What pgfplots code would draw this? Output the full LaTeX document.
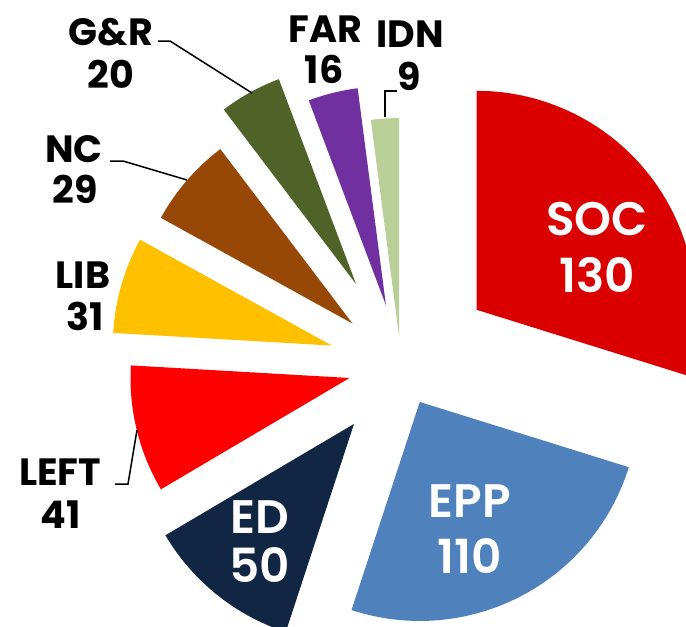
\documentclass[border=0pt]{standalone}
\usepackage{pgfplots}
\pgfplotsset{compat=1.18}
\usepackage{fontspec}
\setmainfont{Poppins}
\newfontfamily\semib{Poppins SemiBold}
\definecolor{socc}{RGB}{218,0,0}
\definecolor{eppc}{RGB}{79,129,189}
\definecolor{edc}{RGB}{17,38,66}
\definecolor{leftc}{RGB}{255,0,0}
\definecolor{libc}{RGB}{255,192,0}
\definecolor{ncc}{RGB}{151,72,7}
\definecolor{grc}{RGB}{79,98,40}
\definecolor{farc}{RGB}{112,48,160}
\definecolor{idnc}{RGB}{186,206,152}
% total of seats
\def\total{436}
\def\cum{0}
% \slice{value}{explode (px)}{colour}
\newcommand\slice[3]{%
  \pgfmathsetmacro\sa{\cum/\total*360}%
  \pgfmathsetmacro\sb{(\cum+#1)/\total*360}%
  \pgfmathsetmacro\sm{(\sa+\sb)/2}%
  \pgfmathsetmacro\ax{401+#2*sin(\sm)}%
  \pgfmathsetmacro\ay{365.5-#2*cos(\sm)}%
  \pgfmathsetmacro\sx{\ax+219*sin(\sa)}%
  \pgfmathsetmacro\sy{\ay-219*cos(\sa)}%
  \pgfmathsetmacro\pa{90-\sa}%
  \pgfmathsetmacro\pb{90-\sb}%
  \pgfmathsetmacro\newcum{\cum+#1}%
  \xdef\cum{\newcum}%
  \edef\temp{\noexpand\fill[#3] (axis cs:\ax,\ay) -- (axis cs:\sx,\sy) arc[start angle=\pa, end angle=\pb, radius=219pt] -- cycle;}%
  \temp}
\begin{document}
\begin{tikzpicture}
\begin{axis}[width=686pt,height=627pt,scale only axis,
  xmin=0,xmax=686,ymin=0,ymax=627,y dir=reverse,hide axis,clip=true]
\slice{130}{94}{socc}
\slice{110}{41}{eppc}
\slice{50}{75}{edc}
\slice{41}{53}{leftc}
\slice{31}{72}{libc}
\slice{29}{64}{ncc}
\slice{20}{93}{grc}
\slice{16}{62}{farc}
\slice{9}{28.5}{idnc}
% leader lines
\draw[line width=1.5pt] (axis cs:158,41) -- (axis cs:170,41) -- (axis cs:252,93);
\draw[line width=1.5pt] (axis cs:110,161) -- (axis cs:123,161) -- (axis cs:187,180);
\draw[line width=1.5pt] (axis cs:397,91) -- (axis cs:385,91) -- (axis cs:385,117);
\draw[line width=1.5pt] (axis cs:115,484) -- (axis cs:128,484) -- (axis cs:137,430);
% labels
\tikzset{bl/.style={anchor=base,inner sep=0pt,font=\bfseries\fontsize{38}{44}\selectfont},
         wl/.style={anchor=base,inner sep=0pt,text=white,font=\semib\fontsize{47}{56}\selectfont}}
\node[wl] at (axis cs:597,235) {SOC};
\node[wl] at (axis cs:597,292) {130};
\node[wl] at (axis cs:470,517) {EPP};
\node[wl] at (axis cs:470,573) {110};
\node[wl] at (axis cs:260,533) {ED};
\node[wl] at (axis cs:260,582) {50};
\node[bl] at (axis cs:60,485) {LEFT};
\node[bl] at (axis cs:61,528) {41};
\node[bl] at (axis cs:83,288) {LIB};
\node[bl] at (axis cs:85,330) {31};
\node[bl] at (axis cs:74,162) {NC};
\node[bl] at (axis cs:75,203) {29};
\node[bl] at (axis cs:111,45) {G\&R};
\node[bl] at (axis cs:111,88) {20};
\node[bl] at (axis cs:325,42) {FAR};
\node[bl] at (axis cs:324,83) {16};
\node[bl] at (axis cs:410,47) {IDN};
\node[bl] at (axis cs:409,90) {9};
\end{axis}
\pgfresetboundingbox
\useasboundingbox (current axis.south west) rectangle (current axis.north east);
\end{tikzpicture}
\end{document}
